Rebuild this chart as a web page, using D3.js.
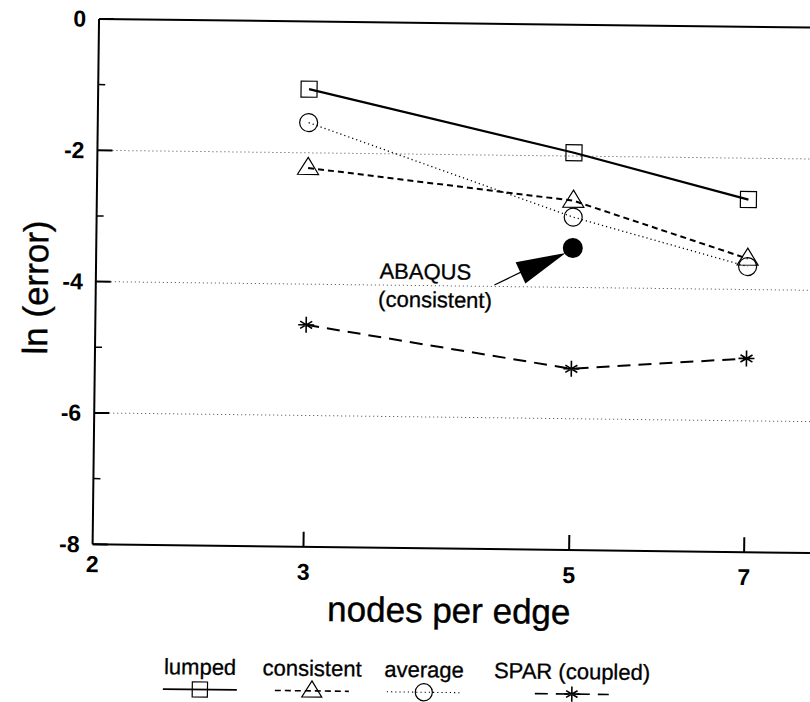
<!DOCTYPE html>
<html><head><meta charset="utf-8">
<script src="https://cdn.jsdelivr.net/npm/d3@7"></script>
<style>
html,body{margin:0;padding:0;background:#fff;}
text{font-family:"Liberation Sans",Arial,Helvetica,sans-serif;fill:#000;}
</style></head>
<body>
<svg id="chart" width="810" height="702"></svg>
<script>
// ---- data ----
const nodes = [3, 5, 7];
const lumped = [-1.03, -1.95, -2.63];
const consistent = [-2.23, -2.68, -3.53];
const average = [-1.54, -2.93, -3.65];
const spar = [-4.62, -5.24, -5.05];
const abaqusX = [5];
const abaqusY = [-3.40];
const yMajorTicks = [0, -2, -4, -6, -8];
const yMinorTicks = [-1, -3, -5, -7];
const yGrid = [-2, -4, -6];
const xTickLabels = [2, 3, 5, 7];
const xInnerTicks = [3, 5, 7];
const legendNames = ["lumped", "consistent", "average", "SPAR (coupled)"];

// ---- layout ----
const svg = d3.select("#chart");
const g = svg.append("g").attr("transform", "rotate(0.7,405,351)");
const x = d3.scaleLog().domain([2, 8]).range([95, 816]);
const y = d3.scaleLinear().domain([-8, 0]).range([548, 22.7]);
const x0 = x(2), xR = x(8), yB = y(-8), yT = y(0);

// grid (dotted)
g.selectAll(".grid").data(yGrid).enter().append("line")
  .attr("x1", x0 + 15).attr("x2", xR).attr("y1", d => y(d)).attr("y2", d => y(d))
  .attr("stroke", "#444").attr("stroke-width", 1).attr("stroke-dasharray", "1,3");

// frame lines
g.append("line").attr("x1", x0).attr("x2", xR).attr("y1", yT).attr("y2", yT).attr("stroke", "#000").attr("stroke-width", 2);
g.append("line").attr("x1", x0).attr("x2", xR).attr("y1", yB).attr("y2", yB).attr("stroke", "#000").attr("stroke-width", 2);
g.append("line").attr("x1", x0).attr("x2", x0).attr("y1", yT).attr("y2", yB).attr("stroke", "#000").attr("stroke-width", 2);

// y ticks
g.selectAll(".ymaj").data(yMajorTicks).enter().append("line")
  .attr("x1", x0).attr("x2", x0 + 15).attr("y1", d => y(d)).attr("y2", d => y(d))
  .attr("stroke", "#000").attr("stroke-width", 2);
g.selectAll(".ymin").data(yMinorTicks).enter().append("line")
  .attr("x1", x0).attr("x2", x0 + 7).attr("y1", d => y(d)).attr("y2", d => y(d))
  .attr("stroke", "#000").attr("stroke-width", 1.5);
g.selectAll(".ylab").data(yMajorTicks).enter().append("text")
  .attr("x", x0 - 13).attr("y", d => y(d) + 8)
  .attr("text-anchor", "end").attr("font-size", 23).attr("font-weight", "bold")
  .text(d => d);

// x ticks
g.selectAll(".xt").data(xInnerTicks).enter().append("line")
  .attr("x1", d => x(d)).attr("x2", d => x(d)).attr("y1", yB).attr("y2", yB - 15)
  .attr("stroke", "#000").attr("stroke-width", 2);
g.selectAll(".xlab").data(xTickLabels).enter().append("text")
  .attr("x", d => x(d)).attr("y", d => yB + (d === 2 ? 28 : 33))
  .attr("text-anchor", "middle").attr("font-size", 23).attr("font-weight", "bold")
  .text(d => d);

// axis titles
g.append("text").attr("x", 452).attr("y", 622).attr("text-anchor", "middle")
  .attr("font-size", 35).attr("stroke", "#000").attr("stroke-width", 0.4).text("nodes per edge");
g.append("text").attr("transform", "translate(47,292) rotate(-90)").attr("text-anchor", "middle")
  .attr("font-size", 35).attr("stroke", "#000").attr("stroke-width", 0.4).text("ln (error)");

// series
const series = [
  {name: legendNames[0], vals: lumped, dash: null, width: 2.2, marker: "square"},
  {name: legendNames[1], vals: consistent, dash: "6,4", width: 2, marker: "triangle"},
  {name: legendNames[2], vals: average, dash: "1.2,3", width: 1.3, marker: "circle"},
  {name: legendNames[3], vals: spar, dash: "13,8", width: 2, marker: "star"}
];
const line = d3.line().x(d => x(d[0])).y(d => y(d[1]));

function drawMarker(sel, type, cx, cy, scale) {
  const s = scale || 1;
  if (type === "square") {
    sel.append("rect").attr("x", cx - 8 * s).attr("y", cy - 8 * s).attr("width", 16 * s).attr("height", 16 * s)
      .attr("fill", "none").attr("stroke", "#000").attr("stroke-width", 1.2);
  } else if (type === "triangle") {
    const h = 17 * s, w = 21 * s;
    sel.append("path").attr("d", `M${cx},${cy - h * 0.62}L${cx + w / 2},${cy + h * 0.38}L${cx - w / 2},${cy + h * 0.38}Z`)
      .attr("fill", "none").attr("stroke", "#000").attr("stroke-width", 1.2);
  } else if (type === "circle") {
    sel.append("circle").attr("cx", cx).attr("cy", cy).attr("r", 9 * s)
      .attr("fill", "none").attr("stroke", "#000").attr("stroke-width", 1.2);
  } else if (type === "star") {
    const r = 8 * s, rd = 6 * s;
    sel.append("path").attr("d",
      `M${cx - r},${cy}L${cx + r},${cy}M${cx},${cy - r}L${cx},${cy + r}` +
      `M${cx - rd},${cy - rd * 0.6}L${cx + rd},${cy + rd * 0.6}M${cx - rd},${cy + rd * 0.6}L${cx + rd},${cy - rd * 0.6}`)
      .attr("fill", "none").attr("stroke", "#000").attr("stroke-width", 1.6);
  }
}

series.forEach(s => {
  const pts = nodes.map((n, i) => [n, s.vals[i]]);
  g.append("path").attr("d", line(pts)).attr("fill", "none").attr("stroke", "#000")
    .attr("stroke-width", s.width).attr("stroke-dasharray", s.dash);
  pts.forEach(p => drawMarker(g, s.marker, x(p[0]), y(p[1])));
});

// ABAQUS point + annotation
const ax = x(abaqusX[0]), ay = y(abaqusY[0]);
g.append("circle").attr("cx", ax).attr("cy", ay).attr("r", 10).attr("fill", "#000");
g.append("path").attr("d", `M${ax - 57},${ay + 15}L${ax - 7},${ay + 5}L${ax - 47},${ay + 36}Z`).attr("fill", "#000");
g.append("line").attr("x1", ax - 78).attr("y1", ay + 38).attr("x2", ax - 50).attr("y2", ay + 24)
  .attr("stroke", "#000").attr("stroke-width", 1.2);
g.append("text").attr("x", ax - 193).attr("y", ay + 33).attr("font-size", 22).attr("stroke", "#000").attr("stroke-width", 0.3).text("ABAQUS");
g.append("text").attr("x", ax - 194).attr("y", ay + 61).attr("font-size", 22).attr("stroke", "#000").attr("stroke-width", 0.3).text("(consistent)");

// legend
const legX = [204, 316, 428, 576];
const legTextY = 677, legSymY = 692;
series.forEach((s, i) => {
  const cx = legX[i];
  g.append("text").attr("x", cx).attr("y", legTextY).attr("text-anchor", "middle")
    .attr("font-size", 22).attr("stroke", "#000").attr("stroke-width", 0.3).text(s.name);
  g.append("line").attr("x1", cx - 37).attr("x2", cx + 37).attr("y1", legSymY).attr("y2", legSymY)
    .attr("stroke", "#000").attr("stroke-width", s.width * 0.8).attr("stroke-dasharray", s.dash);
  drawMarker(g, s.marker, cx, legSymY, 0.95);
});
</script>
</body></html>
